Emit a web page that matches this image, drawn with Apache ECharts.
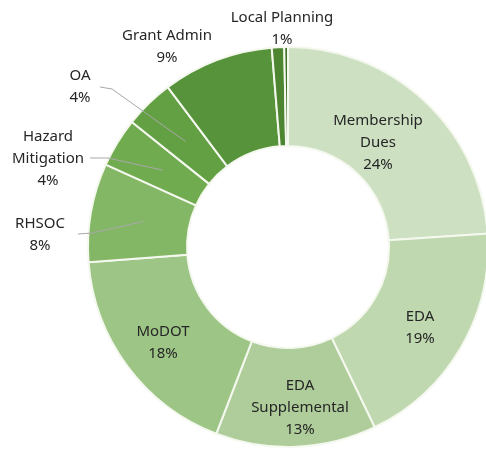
<!DOCTYPE html>
<html>
<head>
<meta charset="utf-8">
<script src="https://cdn.jsdelivr.net/npm/echarts@6/dist/echarts.min.js"></script>
<style>
html,body{margin:0;padding:0;background:#fff;}
#c{width:486px;height:449px;}
</style>
</head>
<body>
<div id="c"></div>
<script>
// Data
var categories = ['Membership\nDues', 'EDA', 'EDA\nSupplemental', 'MoDOT', 'RHSOC', 'Hazard\nMitigation', 'OA', 'Grant Admin', 'Local Planning', 'Other'];
var values = [24, 19, 13, 18, 8, 4, 4, 9, 1, 0.3];
var percentLabels = ['24%', '19%', '13%', '18%', '8%', '4%', '4%', '9%', '1%', ''];

// Styles / layout (not data)
var colors = ['#cde0c2', '#c0d8b0', '#aecd9a', '#9dc585', '#84b765', '#71ab50', '#63a043', '#57933a', '#4d8531', '#3f7227'];
var labelPos = {
  0: [378, 143], 1: [420, 328], 2: [300, 408], 3: [163, 343],
  4: [40, 235], 5: [48, 159], 6: [80, 87], 7: [167, 47], 8: [282, 29]
};
var insideIdx = [0, 1, 2, 3];
var leaderStart = {4: [[78, 234], [92, 233]], 5: [[90, 158], [108, 158]], 6: [[100, 87], [112, 89]]};
var CX = 288, CY = 247, R0 = 101, R1 = 200;

var total = values.reduce(function (a, b) { return a + b; }, 0);
function midPoint(i, r) {
  var cum = 0;
  for (var k = 0; k < i; k++) cum += values[k];
  var a = (cum + values[i] / 2) / total * 2 * Math.PI;
  return [CX + r * Math.sin(a), CY - r * Math.cos(a)];
}

var data = categories.map(function (name, i) {
  return {
    name: name,
    value: values[i],
    itemStyle: {color: colors[i]},
    label: {show: !!labelPos[i], position: insideIdx.indexOf(i) >= 0 ? 'inside' : 'outside'},
    labelLine: {show: false}
  };
});

var leaders = Object.keys(leaderStart).map(function (k) {
  var i = +k;
  return {
    type: 'polyline',
    silent: true,
    z: 10,
    shape: {points: leaderStart[i].concat([midPoint(i, 147)])},
    style: {stroke: '#a8a8a8', lineWidth: 1, fill: null}
  };
});

var chart = echarts.init(document.getElementById('c'), null, {renderer: 'canvas'});
chart.setOption({
  backgroundColor: '#ffffff',
  animation: false,
  series: [{
    type: 'pie',
    center: [CX, CY],
    radius: [R0, R1],
    startAngle: 90,
    clockwise: true,
    avoidLabelOverlap: false,
    silent: true,
    data: data,
    itemStyle: {borderColor: '#f4f8ee', borderWidth: 2},
    label: {
      formatter: function (p) { return p.name + '\n' + percentLabels[p.dataIndex]; },
      fontFamily: 'Noto Sans',
      fontSize: 15,
      lineHeight: 22,
      color: '#262626',
      align: 'center'
    },
    emphasis: {disabled: true},
    labelLayout: function (params) {
      var p = labelPos[params.dataIndex];
      if (!p) return {};
      return {x: p[0], y: p[1], align: 'center', verticalAlign: 'middle'};
    }
  }],
  graphic: leaders
});
</script>
</body>
</html>
